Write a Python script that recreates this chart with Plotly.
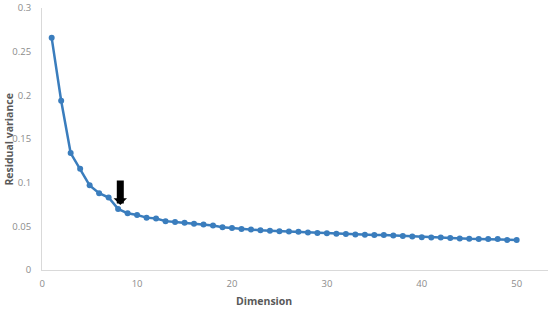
import plotly.graph_objects as go

# residual variance per dimension
dimension = list(range(1, 51))
residual_variance = [
    0.266, 0.194, 0.134, 0.116, 0.097, 0.088, 0.083, 0.070, 0.065, 0.063,
    0.060, 0.059, 0.056, 0.055, 0.054, 0.053, 0.052, 0.051, 0.049, 0.048,
    0.047, 0.0465, 0.0455, 0.045, 0.0445, 0.044, 0.0438, 0.043, 0.0425, 0.042,
    0.0416, 0.0412, 0.0407, 0.0405, 0.0401, 0.040, 0.0394, 0.039, 0.0383, 0.0376,
    0.0372, 0.0371, 0.0367, 0.036, 0.0357, 0.0356, 0.0355, 0.0354, 0.0345, 0.0344,
]
elbow = 8.23
elbow_value = 0.0746

tick_font = dict(family="Open Sans", size=9.5, color="#8c8c8c")
title_font = dict(family="Open Sans", size=10.5, color="#595959")

fig = go.Figure()
fig.add_trace(go.Scatter(
    x=dimension, y=residual_variance,
    mode="lines+markers",
    line=dict(color="#3a7dbd", width=2.5),
    marker=dict(color="#3a7dbd", size=6),
    showlegend=False,
))

# the arrow pointing at the elbow
fig.add_annotation(
    x=elbow, y=elbow_value, ax=0, ay=-26,
    text="", showarrow=True,
    arrowhead=1, arrowsize=0.32, arrowwidth=7, arrowcolor="black",
    standoff=0,
)

fig.add_annotation(
    text="<b>Dimension</b>", xref="paper", yref="paper",
    x=(264 - 42) / 506, y=-0.118, yanchor="middle", showarrow=False,
    font=title_font,
)
fig.add_annotation(
    text="<b>Residual variance</b>", xref="paper", yref="paper",
    x=-0.066, y=0.5, xanchor="center", yanchor="middle", textangle=-90,
    showarrow=False, font=title_font,
)

fig.update_layout(
    width=550, height=309,
    margin=dict(l=42, r=2, t=6, b=39),
    paper_bgcolor="white", plot_bgcolor="white",
    xaxis=dict(
        range=[-0.02, 53.3], tickvals=[0, 10, 20, 30, 40, 50],
        showgrid=False, zeroline=False,
        showline=True, linecolor="#d9d9d9", linewidth=1,
        tickfont=tick_font, ticklabelstandoff=5,
    ),
    yaxis=dict(
        range=[0, 0.3002], tickvals=[0, 0.05, 0.1, 0.15, 0.2, 0.25, 0.3],
        ticktext=["0", "0.05", "0.1", "0.15", "0.2", "0.25", "0.3"],
        showgrid=False, zeroline=False,
        showline=True, linecolor="#d9d9d9", linewidth=1,
        tickfont=tick_font, ticklabelstandoff=8, ticklabeloverflow="allow",
    ),
)

# drop the default page margin so the figure sits at the window's corner
fig.write_html(
    "out.html",
    config={"displayModeBar": False},
    post_script="document.body.style.margin='0';",
)
